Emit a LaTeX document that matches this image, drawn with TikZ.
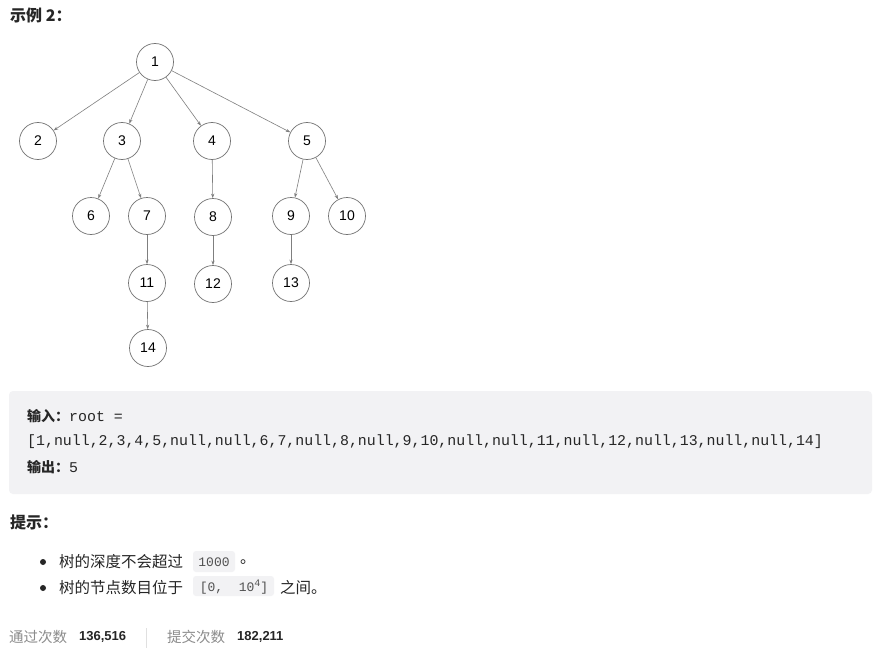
\documentclass[tikz,border=0pt]{standalone}
\usepackage{fontspec}
\setmainfont{Liberation Sans}
\newfontfamily\cjk{Noto Sans CJK SC}
\newfontfamily\mono{Liberation Mono}
\usetikzlibrary{arrows.meta}
\definecolor{txt}{HTML}{262626}
\definecolor{muted}{HTML}{8C8C8C}
\definecolor{boxbg}{HTML}{F2F2F4}
\definecolor{codebg}{HTML}{F2F2F4}
\definecolor{edge}{HTML}{7F7F7F}
\tikzset{
  tn/.style={circle, draw=edge!90!black, line width=0.7pt, minimum size=37pt, inner sep=0pt, font=\fontsize{14}{14}\selectfont, text=black},
  tedge/.style={draw=edge, line width=0.6pt, -{Stealth[length=4.5pt,width=3.2pt]}},
  lbl/.style={anchor=west, inner sep=0pt, text=txt},
  codebox/.style={fill=codebg, rounded corners=3pt},
}
\begin{document}
\begin{tikzpicture}[x=1pt,y=-1pt]
\useasboundingbox[fill=white] (0,0) rectangle (885,650);
% title
\node[lbl] (title) at (10,15) {\cjk\bfseries\fontsize{16}{16}\selectfont 示例 2：};
% tree
\node[tn] (n1) at (155,62) {1};
\node[tn] (n2) at (38,141) {2};
\node[tn] (n3) at (122,141) {3};
\node[tn] (n4) at (212,141) {4};
\node[tn] (n5) at (307,141) {5};
\node[tn] (n6) at (91,216) {6};
\node[tn] (n7) at (147,216) {7};
\node[tn] (n8) at (213,217) {8};
\node[tn] (n9) at (291,216) {9};
\node[tn] (n10) at (347,216) {10};
\node[tn] (n11) at (147,283) {11};
\node[tn] (n12) at (213,284) {12};
\node[tn] (n13) at (291,283) {13};
\node[tn] (n14) at (148,348) {14};
\foreach \a/\b in {n1/n2,n1/n3,n1/n4,n1/n5,n3/n6,n3/n7,n4/n8,n5/n9,n5/n10,n7/n11,n8/n12,n9/n13,n11/n14}
  \draw[tedge] (\a) -- (\b);
% example box
\fill[boxbg, rounded corners=4pt] (9,391) rectangle (872,494);
\node[lbl] (in1) at (27,416) {{\cjk\bfseries\fontsize{14}{14}\selectfont 输入：}{\mono\fontsize{14.9}{15}\selectfont root =}};
\node[lbl] (in2) at (27,441.5) {\mono\fontsize{14.9}{15}\selectfont [1,null,2,3,4,5,null,null,6,7,null,8,null,9,10,null,null,11,null,12,null,13,null,null,14]};
\node[lbl] (out) at (27,467) {{\cjk\bfseries\fontsize{14}{14}\selectfont 输出：}{\mono\fontsize{14.9}{15}\selectfont 5}};
% hints
\node[lbl] (hint) at (10,522) {\cjk\bfseries\fontsize{16}{16}\selectfont 提示：};
\fill[txt] (43,562) circle (3pt);
\fill[txt] (43,588) circle (3pt);
\node[lbl] (h1) at (59,562) {\cjk\fontsize{15.5}{16}\selectfont 树的深度不会超过};
\fill[codebox] (193,551) rectangle (235,572);
\node[inner sep=0pt, text=txt!80] (c1) at (214,562) {\mono\fontsize{13}{13}\selectfont 1000};
\node[lbl] (h1e) at (240,562) {\cjk\fontsize{15.5}{16}\selectfont 。};
\node[lbl] (h2) at (59,588) {\cjk\fontsize{15.5}{16}\selectfont 树的节点数目位于};
\fill[codebox] (193,576) rectangle (274,596);
\node[inner sep=0pt, text=txt!80] (c2) at (234,587) {\mono\fontsize{13}{13}\selectfont [0,\ \ 10\raisebox{4.5pt}{\fontsize{10}{10}\selectfont 4}]};
\node[lbl] (h2e) at (280,588) {\cjk\fontsize{15.5}{16}\selectfont 之间。};
% stats
\node[lbl, text=muted] (s1) at (9,637) {\cjk\fontsize{14.5}{15}\selectfont 通过次数};
\node[lbl] (s1v) at (79,637) {\bfseries\fontsize{13}{14}\selectfont 136,516};
\coordinate (sepa) at (146.5,628);
\coordinate (sepb) at (146.5,648);
\draw[line width=1.5pt, color=black!12] (sepa) -- (sepb);
\node[lbl, text=muted] (s2) at (167,637) {\cjk\fontsize{14.5}{15}\selectfont 提交次数};
\node[lbl] (s2v) at (237,637) {\bfseries\fontsize{13}{14}\selectfont 182,211};
\end{tikzpicture}
\end{document}
